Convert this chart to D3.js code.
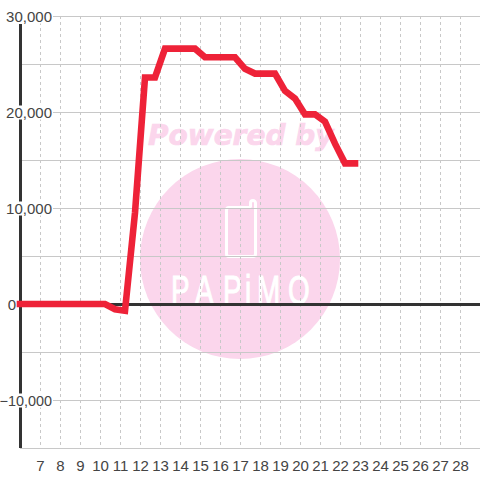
<!DOCTYPE html>
<html><head><meta charset="utf-8">
<style>html,body{margin:0;padding:0;background:#fff}svg{display:block}</style>
<script src="https://cdn.jsdelivr.net/npm/d3@7"></script></head><body>
<svg id="c" width="480" height="480"></svg>
<script>
const hours=[6,6.25,6.75,7.25,7.75,8.25,8.75,9.25,9.75,10.25,10.75,11.25,11.75,12.25,12.75,13.25,13.75,14.25,14.75,15.25,15.75,16.25,16.75,17.25,17.75,18.25,18.75,19.25,19.75,20.25,20.75,21.25,21.75,22.25,22.75];
const values=[0,0,0,0,0,0,0,0,0,0,-550,-700,9500,23600,23600,26600,26600,26600,26600,25700,25700,25700,25700,24500,24000,24000,24000,22200,21400,19750,19750,19000,16700,14650,14650];
const yTicks=[30000,20000,10000,0,-10000];
const yMinor=[25000,15000,5000,-5000,-15000];
const xTicks=[7,8,9,10,11,12,13,14,15,16,17,18,19,20,21,22,23,24,25,26,27,28];
const fontFam='"Liberation Sans",Arial,sans-serif';
const svg=d3.select('#c');
const x=d3.scaleLinear().domain([6,29]).range([20,480]);
const y=d3.scaleLinear().domain([-15000,30000]).range([448,16]);
const grid='#c8c8c8', pink='#fbd6ec';
// watermark
const wm=svg.append('g');
wm.append('circle').attr('cx',240).attr('cy',259).attr('r',100).attr('fill',pink);
wm.append('text').text('Powered by').attr('x',148).attr('y',145).attr('font-family','"DejaVu Sans"').attr('font-weight','bold').attr('font-style','italic').attr('font-size',28).attr('fill',pink).attr('stroke',pink).attr('stroke-width',.7);
const ph=d3.path();
ph.moveTo(251,207.5);ph.lineTo(229,207.5);ph.quadraticCurveTo(226.5,207.5,226.5,210);ph.lineTo(226.5,254);ph.quadraticCurveTo(226.5,256.5,229,256.5);ph.lineTo(253,256.5);ph.quadraticCurveTo(255.5,256.5,255.5,254);ph.lineTo(255.5,203);ph.arc(253,203,2.5,0,Math.PI,true);ph.lineTo(250.5,207.5);
wm.append('path').attr('d',ph.toString()).attr('fill','none').attr('stroke','#fff').attr('stroke-width',3);
const sx=.68;
wm.append('text').text('PAPiMO').attr('transform',`scale(${sx},1)`).attr('x',[171,195,223,245,257,288].map(v=>v/sx).join(' ')).attr('y',304).attr('font-family',fontFam).attr('font-size',41).attr('fill','#fff').attr('stroke','#fff').attr('stroke-width',1);
// grids
svg.append('g').selectAll('line').data(xTicks).join('line').attr('x1',d=>x(d)+.5).attr('x2',d=>x(d)+.5).attr('y1',16).attr('y2',448).attr('stroke',grid).attr('stroke-dasharray','3 3');
svg.append('g').selectAll('line').data(yMinor.concat(yTicks.filter(d=>d!==0))).join('line').attr('x1',20).attr('x2',480).attr('y1',d=>y(d)+.5).attr('y2',d=>y(d)+.5).attr('stroke',grid);
// axes
svg.append('line').attr('x1',20.5).attr('x2',20.5).attr('y1',24).attr('y2',448).attr('stroke','#333').attr('stroke-width',3);
svg.append('line').attr('x1',20).attr('x2',480).attr('y1',y(0)+.5).attr('y2',y(0)+.5).attr('stroke','#333').attr('stroke-width',3);
// labels
const lab=d3.axisLeft(y).tickValues(yTicks).tickSize(0).tickFormat(d3.format(',d'));
const gy=svg.append('g').attr('transform','translate(52,0)').call(lab);
gy.select('.domain').remove();
gy.selectAll('.tick').each(function(d){
  const g=d3.select(this), t=g.select('text');
  t.attr('x',d===0?-36:0).attr('text-anchor','end').attr('dy','.36em').attr('font-family',fontFam).attr('font-size',d<0?14.4:15).attr('fill','#444');
  if(d!==0) g.insert('rect','text').attr('x',d<0?-50:-46).attr('width',d<0?51:47).attr('y',-7).attr('height',14).attr('fill','#fff');
});
const gx=svg.append('g').attr('transform','translate(0,448)').call(d3.axisBottom(x).tickValues(xTicks).tickSize(0).tickFormat(d3.format('d')));
gx.select('.domain').remove();
gx.selectAll('text').attr('y',12).attr('dy','.71em').attr('font-family',fontFam).attr('font-size',15).attr('fill','#444');
// series
const line=d3.line().x((d,i)=>x(hours[i])).y(d=>y(d));
svg.append('path').attr('d',line(values)).attr('fill','none').attr('stroke','#ee2238').attr('stroke-width',6.6).attr('stroke-linecap','square').attr('stroke-linejoin','miter');
</script></body></html>
